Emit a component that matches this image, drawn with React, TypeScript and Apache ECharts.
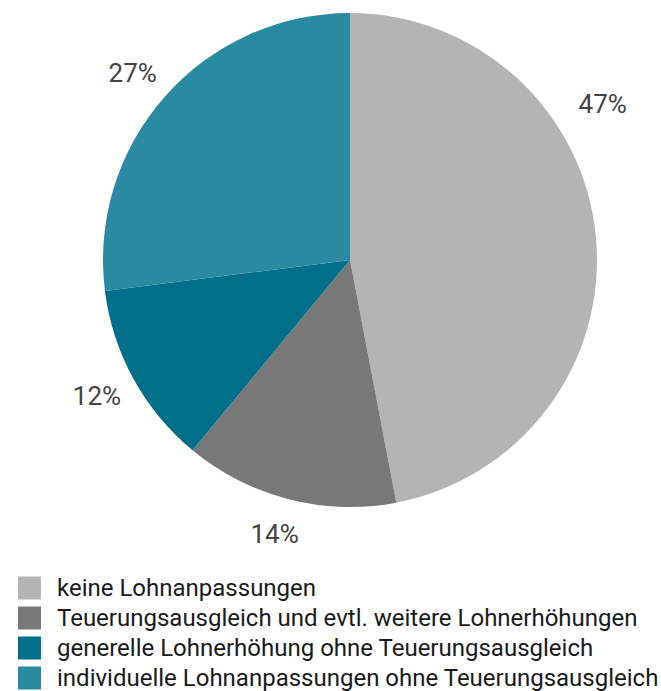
import React, { useEffect, useRef } from "react";
import * as echarts from "echarts";

const categories = [
  "keine Lohnanpassungen",
  "Teuerungsausgleich und evtl. weitere Lohnerhöhungen",
  "generelle Lohnerhöhung ohne Teuerungsausgleich",
  "individuelle Lohnanpassungen ohne Teuerungsausgleich",
];
const values = [47, 14, 12, 27];
const colors = ["#b4b4b4", "#787878", "#006f8a", "#2a8aa1"];

export default function App() {
  const ref = useRef<HTMLDivElement>(null);
  useEffect(() => {
    if (!ref.current) return;
    const chart = echarts.init(ref.current, undefined, { renderer: "svg" });
    const font = "Roboto";
    chart.setOption({
      animation: false,
      backgroundColor: "#ffffff",
      color: colors,
      legend: {
        orient: "vertical",
        left: 18,
        top: 576,
        itemWidth: 23,
        itemHeight: 23,
        itemGap: 6,
        icon: "rect",
        padding: 0,
        data: categories,
        textStyle: {
          fontFamily: font,
          fontSize: 24,
          color: "#1a1a1a",
          padding: [0, 0, 0, 11],
        },
      },
      series: [
        {
          type: "pie",
          center: [350, 260],
          radius: 247,
          startAngle: 90,
          clockwise: true,
          avoidLabelOverlap: false,
          label: {
            show: true,
            position: "outside",
            formatter: "{c}%",
            fontFamily: font,
            fontSize: 26,
            color: "#444444",
          },
          labelLine: { show: false, length: 36, length2: 0 },
          labelLayout: (p: any) =>
            p.dataIndex === 0
              ? { dx: -34, dy: -129, align: "center" }
              : { align: "center" },
          itemStyle: { borderWidth: 0 },
          emphasis: { disabled: true },
          data: categories.map((name, i) => ({ name, value: values[i] })),
        },
      ],
    });
    return () => chart.dispose();
  }, []);
  return (
    <div
      ref={ref}
      style={{ position: "absolute", left: 0, top: 0, width: 661, height: 691 }}
    />
  );
}
